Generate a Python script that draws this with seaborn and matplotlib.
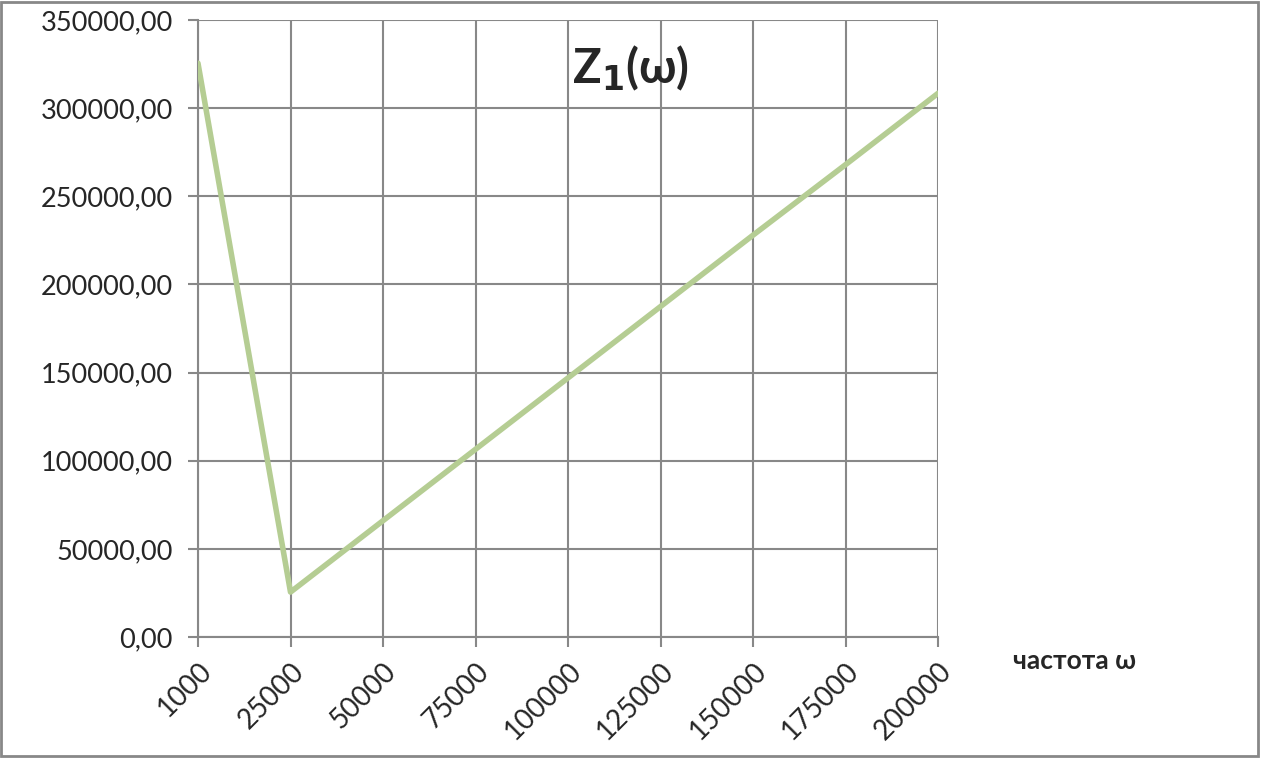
import numpy as np
import pandas as pd
import matplotlib.pyplot as plt
import seaborn as sns
from matplotlib.patches import Rectangle

# chart data
freq_labels = ['1000', '25000', '50000', '75000', '100000',
               '125000', '150000', '175000', '200000']
z1_values = [325500, 25500, 66000, 106500, 147000, 187500, 228000, 268000, 308500]
y_ticks = [0, 50000, 100000, 150000, 200000, 250000, 300000, 350000]

df = pd.DataFrame({'pos': np.arange(len(freq_labels)), 'freq': freq_labels, 'z1': z1_values})

sns.set_style('white')
plt.rcParams['font.family'] = ['Lato', 'DejaVu Sans']

fig = plt.figure(figsize=(12.61, 7.58), dpi=100)
ax = fig.add_axes([0.157, 0.1596, 0.587, 0.814])

sns.lineplot(data=df, x='pos', y='z1', ax=ax, color='#b5cd93', linewidth=4, zorder=3)

grid_c = '#888888'
ax.set_xlim(0, len(freq_labels) - 1)
ax.set_ylim(y_ticks[0], y_ticks[-1])
ax.set_xticks(df['pos'])
ax.set_xticklabels(df['freq'], rotation=45, ha='right', va='top',
                   rotation_mode='anchor', fontsize=20)
ax.set_yticks(y_ticks)
ax.set_yticklabels([f'{v:.2f}'.replace('.', ',') for v in y_ticks], fontsize=19.5)
ax.grid(True, color=grid_c, linewidth=1.5)
ax.tick_params(axis='both', direction='out', length=7, width=1.5, color=grid_c,
               bottom=True, left=True)
ax.tick_params(axis='y', pad=11)
ax.tick_params(axis='x', pad=8)
for s in ['top', 'right']:
    ax.spines[s].set_visible(False)
for s in ['left', 'bottom']:
    ax.spines[s].set_color(grid_c)
    ax.spines[s].set_linewidth(1.5)
ax.set_xlabel('')
ax.set_ylabel('')

fig.text(0.5, 0.91, 'Z$_\\mathbf{1}$(ω)', fontsize=34, fontweight='bold',
         ha='center', va='center')
fig.text(0.8035, 0.128, 'частота ω', fontsize=19, fontweight='bold',
         ha='left', va='center')

fig.patches.append(Rectangle((0.001, 0.002), 0.997, 0.996, transform=fig.transFigure,
                             fill=False, edgecolor='#888888', linewidth=2))

fig.savefig('out.png', dpi=100)
